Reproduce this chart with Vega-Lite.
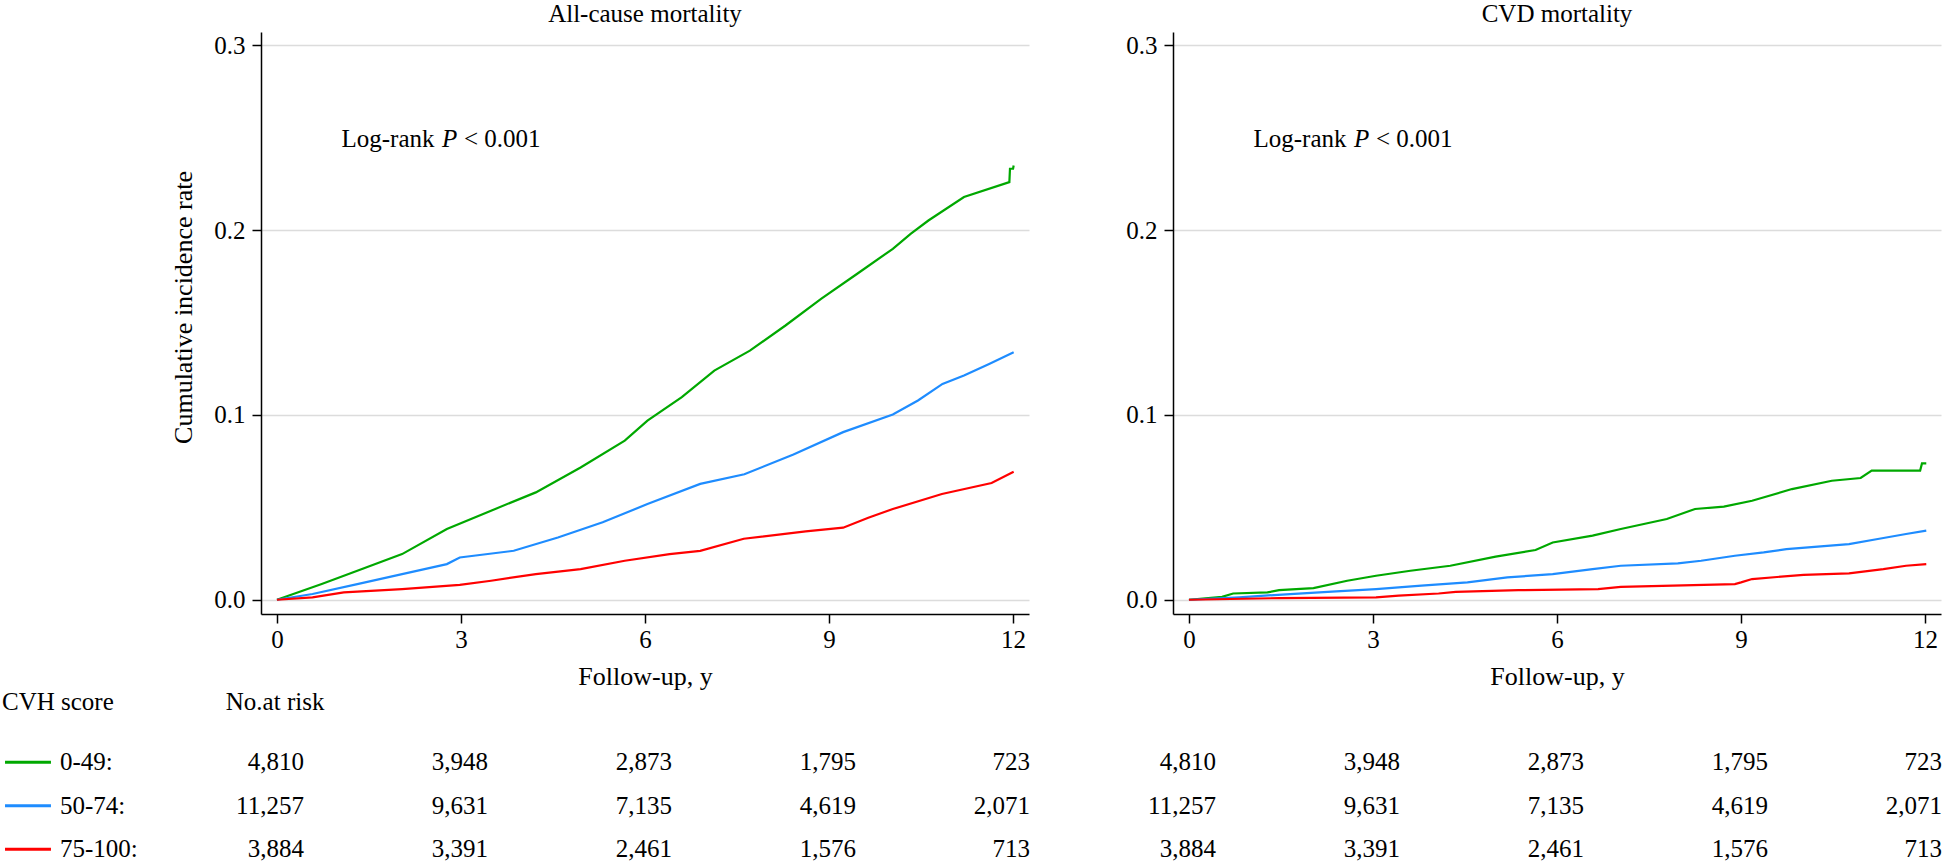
{
  "$schema": "https://vega.github.io/schema/vega-lite/v6.json",
  "padding": {"left": 2, "top": 2, "right": 0, "bottom": 0},
  "background": "white",
  "config": {
    "view": {"stroke": null},
    "font": "Liberation Serif",
    "text": {"font": "Liberation Serif", "fontSize": 25, "color": "black"},
    "title": {"font": "Liberation Serif", "fontSize": 25, "fontWeight": "normal", "color": "black", "anchor": "middle", "frame": "group", "offset": 5},
    "axis": {"domainColor": "black", "domainWidth": 1.5, "tickColor": "black", "tickWidth": 1.5, "tickSize": 9, "labelFont": "Liberation Serif", "labelFontSize": 25, "labelColor": "black", "titleFont": "Liberation Serif", "titleFontSize": 26, "titleFontWeight": "normal", "titleColor": "black", "grid": false},
    "axisX": {"labelPadding": 4, "titleBaseline": "alphabetic", "titleY": 70, "format": "d"},
    "axisY": {"grid": true, "gridColor": "#dcdcdc", "gridWidth": 1.5, "labelPadding": 7, "titleX": -78, "titleY": 275, "titleAngle": 270, "titleAlign": "center", "titleBaseline": "middle", "format": ".1f"}
  },
  "datasets": {
    "km": [
      {"panel":"A","group":"0-49","t":0,"y":0},{"panel":"A","group":"0-49","t":0.73,"y":0.0085},{"panel":"A","group":"0-49","t":1.31,"y":0.0157},{"panel":"A","group":"0-49","t":2.04,"y":0.0247},{"panel":"A","group":"0-49","t":2.77,"y":0.0383},{"panel":"A","group":"0-49","t":3.49,"y":0.0482},{"panel":"A","group":"0-49","t":4.22,"y":0.0581},{"panel":"A","group":"0-49","t":4.95,"y":0.0716},{"panel":"A","group":"0-49","t":5.67,"y":0.0861},{"panel":"A","group":"0-49","t":6.04,"y":0.0969},{"panel":"A","group":"0-49","t":6.6,"y":0.1096},{"panel":"A","group":"0-49","t":7.13,"y":0.124},{"panel":"A","group":"0-49","t":7.71,"y":0.1348},{"panel":"A","group":"0-49","t":8.29,"y":0.1484},{"panel":"A","group":"0-49","t":8.87,"y":0.1628},{"panel":"A","group":"0-49","t":9.46,"y":0.1764},{"panel":"A","group":"0-49","t":10.04,"y":0.1899},{"panel":"A","group":"0-49","t":10.33,"y":0.198},{"panel":"A","group":"0-49","t":10.62,"y":0.2052},{"panel":"A","group":"0-49","t":11.2,"y":0.2179},{"panel":"A","group":"0-49","t":11.94,"y":0.226},{"panel":"A","group":"0-49","t":11.95,"y":0.2332},{"panel":"A","group":"0-49","t":12.0,"y":0.2332},{"panel":"A","group":"0-49","t":12.01,"y":0.235},
      {"panel":"A","group":"50-74","t":0,"y":0},{"panel":"A","group":"50-74","t":0.58,"y":0.0031},{"panel":"A","group":"50-74","t":1.31,"y":0.0085},{"panel":"A","group":"50-74","t":2.04,"y":0.0139},{"panel":"A","group":"50-74","t":2.77,"y":0.0193},{"panel":"A","group":"50-74","t":2.98,"y":0.0229},{"panel":"A","group":"50-74","t":3.86,"y":0.0265},{"panel":"A","group":"50-74","t":4.58,"y":0.0337},{"panel":"A","group":"50-74","t":5.31,"y":0.0419},{"panel":"A","group":"50-74","t":6.04,"y":0.0518},{"panel":"A","group":"50-74","t":6.9,"y":0.0627},{"panel":"A","group":"50-74","t":7.62,"y":0.0679},{"panel":"A","group":"50-74","t":8.42,"y":0.0786},{"panel":"A","group":"50-74","t":9.23,"y":0.0907},{"panel":"A","group":"50-74","t":10.04,"y":0.1002},{"panel":"A","group":"50-74","t":10.45,"y":0.1078},{"panel":"A","group":"50-74","t":10.85,"y":0.1168},{"panel":"A","group":"50-74","t":11.2,"y":0.1213},{"panel":"A","group":"50-74","t":11.61,"y":0.1276},{"panel":"A","group":"50-74","t":12.01,"y":0.1339},
      {"panel":"A","group":"75-100","t":0,"y":0},{"panel":"A","group":"75-100","t":0.58,"y":0.0013},{"panel":"A","group":"75-100","t":1.09,"y":0.004},{"panel":"A","group":"75-100","t":2.04,"y":0.0058},{"panel":"A","group":"75-100","t":2.98,"y":0.0081},{"panel":"A","group":"75-100","t":3.49,"y":0.0103},{"panel":"A","group":"75-100","t":4.22,"y":0.0139},{"panel":"A","group":"75-100","t":4.95,"y":0.0166},{"panel":"A","group":"75-100","t":5.67,"y":0.0211},{"panel":"A","group":"75-100","t":6.4,"y":0.0247},{"panel":"A","group":"75-100","t":6.9,"y":0.0265},{"panel":"A","group":"75-100","t":7.61,"y":0.033},{"panel":"A","group":"75-100","t":8.62,"y":0.037},{"panel":"A","group":"75-100","t":9.23,"y":0.039},{"panel":"A","group":"75-100","t":9.64,"y":0.0444},{"panel":"A","group":"75-100","t":10.04,"y":0.0491},{"panel":"A","group":"75-100","t":10.84,"y":0.0572},{"panel":"A","group":"75-100","t":11.65,"y":0.0632},{"panel":"A","group":"75-100","t":12.01,"y":0.0693},
      {"panel":"B","group":"0-49","t":0,"y":0},{"panel":"B","group":"0-49","t":0.54,"y":0.0016},{"panel":"B","group":"0-49","t":0.72,"y":0.0034},{"panel":"B","group":"0-49","t":1.28,"y":0.004},{"panel":"B","group":"0-49","t":1.47,"y":0.0052},{"panel":"B","group":"0-49","t":2.03,"y":0.0063},{"panel":"B","group":"0-49","t":2.58,"y":0.0103},{"panel":"B","group":"0-49","t":3.05,"y":0.013},{"panel":"B","group":"0-49","t":3.61,"y":0.0157},{"panel":"B","group":"0-49","t":4.26,"y":0.0184},{"panel":"B","group":"0-49","t":5.0,"y":0.0233},{"panel":"B","group":"0-49","t":5.65,"y":0.0269},{"panel":"B","group":"0-49","t":5.93,"y":0.031},{"panel":"B","group":"0-49","t":6.58,"y":0.0347},{"panel":"B","group":"0-49","t":7.04,"y":0.0383},{"panel":"B","group":"0-49","t":7.79,"y":0.0437},{"panel":"B","group":"0-49","t":8.25,"y":0.0491},{"panel":"B","group":"0-49","t":8.72,"y":0.0504},{"panel":"B","group":"0-49","t":9.18,"y":0.0536},{"panel":"B","group":"0-49","t":9.83,"y":0.0599},{"panel":"B","group":"0-49","t":10.48,"y":0.0644},{"panel":"B","group":"0-49","t":10.95,"y":0.0659},{"panel":"B","group":"0-49","t":11.13,"y":0.0699},{"panel":"B","group":"0-49","t":11.92,"y":0.0699},{"panel":"B","group":"0-49","t":11.95,"y":0.0738},{"panel":"B","group":"0-49","t":12.02,"y":0.0738},
      {"panel":"B","group":"50-74","t":0,"y":0},{"panel":"B","group":"50-74","t":0.82,"y":0.0013},{"panel":"B","group":"50-74","t":1.65,"y":0.0031},{"panel":"B","group":"50-74","t":2.4,"y":0.0045},{"panel":"B","group":"50-74","t":3.05,"y":0.0058},{"panel":"B","group":"50-74","t":3.79,"y":0.0076},{"panel":"B","group":"50-74","t":4.54,"y":0.0094},{"panel":"B","group":"50-74","t":5.19,"y":0.0121},{"panel":"B","group":"50-74","t":5.93,"y":0.0139},{"panel":"B","group":"50-74","t":6.58,"y":0.0166},{"panel":"B","group":"50-74","t":7.04,"y":0.0184},{"panel":"B","group":"50-74","t":7.97,"y":0.0197},{"panel":"B","group":"50-74","t":8.35,"y":0.0211},{"panel":"B","group":"50-74","t":8.9,"y":0.0238},{"panel":"B","group":"50-74","t":9.37,"y":0.0256},{"panel":"B","group":"50-74","t":9.74,"y":0.0274},{"panel":"B","group":"50-74","t":10.76,"y":0.0301},{"panel":"B","group":"50-74","t":11.23,"y":0.0329},{"panel":"B","group":"50-74","t":11.69,"y":0.0356},{"panel":"B","group":"50-74","t":12.02,"y":0.0374},
      {"panel":"B","group":"75-100","t":0,"y":0},{"panel":"B","group":"75-100","t":1.47,"y":0.0009},{"panel":"B","group":"75-100","t":3.05,"y":0.0013},{"panel":"B","group":"75-100","t":3.42,"y":0.0022},{"panel":"B","group":"75-100","t":4.07,"y":0.0034},{"panel":"B","group":"75-100","t":4.35,"y":0.0043},{"panel":"B","group":"75-100","t":5.37,"y":0.0052},{"panel":"B","group":"75-100","t":6.67,"y":0.0058},{"panel":"B","group":"75-100","t":7.04,"y":0.007},{"panel":"B","group":"75-100","t":8.9,"y":0.0085},{"panel":"B","group":"75-100","t":9.0,"y":0.0094},{"panel":"B","group":"75-100","t":9.18,"y":0.0112},{"panel":"B","group":"75-100","t":10.02,"y":0.0135},{"panel":"B","group":"75-100","t":10.76,"y":0.0143},{"panel":"B","group":"75-100","t":11.32,"y":0.0166},{"panel":"B","group":"75-100","t":11.69,"y":0.0184},{"panel":"B","group":"75-100","t":12.02,"y":0.0193}
    ],
    "risk": [
      {"group":"0-49","t":0,"n":4810},{"group":"0-49","t":3,"n":3948},{"group":"0-49","t":6,"n":2873},{"group":"0-49","t":9,"n":1795},{"group":"0-49","t":12,"n":723},
      {"group":"50-74","t":0,"n":11257},{"group":"50-74","t":3,"n":9631},{"group":"50-74","t":6,"n":7135},{"group":"50-74","t":9,"n":4619},{"group":"50-74","t":12,"n":2071},
      {"group":"75-100","t":0,"n":3884},{"group":"75-100","t":3,"n":3391},{"group":"75-100","t":6,"n":2461},{"group":"75-100","t":9,"n":1576},{"group":"75-100","t":12,"n":713}
    ],
    "groups": [
      {"group":"0-49","label":"0-49:"},{"group":"50-74","label":"50-74:"},{"group":"75-100","label":"75-100:"}
    ]
  },
  "bounds": "flush",
  "spacing": 144,
  "hconcat": [
    {
      "width": 768,
      "height": 582,
      "title": "All-cause mortality",
      "resolve": {"scale": {"y": "independent"}},
      "layer": [
        {
          "layer": [
            {
              "data": {"name": "km"},
              "transform": [{"filter": "datum.panel === 'A'"}],
              "mark": {"type": "line", "strokeWidth": 2.2, "interpolate": "linear"},
              "encoding": {
                "x": {"field": "t", "type": "quantitative", "scale": {"domain": [-0.26, 12.26], "nice": false, "zero": false}, "axis": {"values": [0, 3, 6, 9, 12], "format": "d", "title": "Follow-up, y"}},
                "y": {"field": "y", "type": "quantitative", "scale": {"domain": [-0.0077, 0.3072], "nice": false, "zero": false}, "axis": {"values": [0, 0.1, 0.2, 0.3], "format": ".1f", "title": "Cumulative incidence rate"}},
                "color": {"field": "group", "type": "nominal", "scale": {"domain": ["0-49", "50-74", "75-100"], "range": ["#00a800", "#1e8cff", "#ff0000"]}, "legend": null}
              }
            },
            {
              "data": {"values": [{"txt": "Log-rank"}]},
              "mark": {"type": "text", "align": "left", "baseline": "alphabetic"},
              "encoding": {
                "x": {"datum": 1.052, "scale": {"domain": [-0.26, 12.26], "nice": false, "zero": false}},
                "y": {"datum": 0.2448, "scale": {"domain": [-0.0077, 0.3072], "nice": false, "zero": false}},
                "text": {"field": "txt"}
              }
            },
            {
              "data": {"values": [{"txt": "P"}]},
              "mark": {"type": "text", "align": "left", "baseline": "alphabetic", "fontStyle": "italic"},
              "encoding": {
                "x": {"datum": 2.69, "scale": {"domain": [-0.26, 12.26], "nice": false, "zero": false}},
                "y": {"datum": 0.2448, "scale": {"domain": [-0.0077, 0.3072], "nice": false, "zero": false}},
                "text": {"field": "txt"}
              }
            },
            {
              "data": {"values": [{"txt": "< 0.001"}]},
              "mark": {"type": "text", "align": "left", "baseline": "alphabetic"},
              "encoding": {
                "x": {"datum": 3.049, "scale": {"domain": [-0.26, 12.26], "nice": false, "zero": false}},
                "y": {"datum": 0.2448, "scale": {"domain": [-0.0077, 0.3072], "nice": false, "zero": false}},
                "text": {"field": "txt"}
              }
            },
            {
              "data": {"values": [{"txt": "CVH score"}]},
              "mark": {"type": "text", "align": "left", "baseline": "alphabetic"},
              "encoding": {
                "x": {"datum": -4.482, "scale": {"domain": [-0.26, 12.26], "nice": false, "zero": false}},
                "y": {"datum": -0.0595, "scale": {"domain": [-0.0077, 0.3072], "nice": false, "zero": false}},
                "text": {"field": "txt"}
              }
            },
            {
              "data": {"values": [{"txt": "No.at risk"}]},
              "mark": {"type": "text", "align": "center", "baseline": "alphabetic"},
              "encoding": {
                "x": {"datum": -0.03, "scale": {"domain": [-0.26, 12.26], "nice": false, "zero": false}},
                "y": {"datum": -0.0595, "scale": {"domain": [-0.0077, 0.3072], "nice": false, "zero": false}},
                "text": {"field": "txt"}
              }
            }
          ]
        },
        {
          "layer": [
            {
              "data": {"name": "risk"},
              "transform": [{"filter": "datum.t < 12"}],
              "mark": {"type": "text", "align": "right", "baseline": "middle", "dx": 27},
              "encoding": {
                "x": {"field": "t", "type": "quantitative", "title": "Follow-up, y", "scale": {"domain": [-0.26, 12.26], "nice": false, "zero": false}},
                "y": {"field": "group", "type": "nominal", "scale": {"type": "point", "domain": ["0-49", "50-74", "75-100"], "range": [730.3, 817.3], "padding": 0}, "axis": null},
                "text": {"field": "n", "type": "quantitative", "format": ","}
              }
            },
            {
              "data": {"name": "risk"},
              "transform": [{"filter": "datum.t === 12"}],
              "mark": {"type": "text", "align": "right", "baseline": "middle", "dx": 17},
              "encoding": {
                "x": {"field": "t", "type": "quantitative", "title": "Follow-up, y", "scale": {"domain": [-0.26, 12.26], "nice": false, "zero": false}},
                "y": {"field": "group", "type": "nominal", "scale": {"type": "point", "domain": ["0-49", "50-74", "75-100"], "range": [730.3, 817.3], "padding": 0}, "axis": null},
                "text": {"field": "n", "type": "quantitative", "format": ","}
              }
            },
            {
              "data": {"name": "groups"},
              "mark": {"type": "rule", "strokeWidth": 3},
              "encoding": {
                "x": {"datum": -4.433, "scale": {"domain": [-0.26, 12.26], "nice": false, "zero": false}},
                "x2": {"datum": -3.684},
                "y": {"field": "group", "type": "nominal", "scale": {"type": "point", "domain": ["0-49", "50-74", "75-100"], "range": [730.3, 817.3], "padding": 0}, "axis": null},
                "color": {"field": "group", "type": "nominal", "scale": {"domain": ["0-49", "50-74", "75-100"], "range": ["#00a800", "#1e8cff", "#ff0000"]}, "legend": null}
              }
            },
            {
              "data": {"name": "groups"},
              "mark": {"type": "text", "align": "left", "baseline": "middle"},
              "encoding": {
                "x": {"datum": -3.537, "scale": {"domain": [-0.26, 12.26], "nice": false, "zero": false}},
                "y": {"field": "group", "type": "nominal", "scale": {"type": "point", "domain": ["0-49", "50-74", "75-100"], "range": [730.3, 817.3], "padding": 0}, "axis": null},
                "text": {"field": "label"}
              }
            }
          ]
        }
      ]
    },
    {
      "width": 768,
      "height": 582,
      "title": "CVD mortality",
      "resolve": {"scale": {"y": "independent"}},
      "layer": [
        {
          "layer": [
            {
              "data": {"name": "km"},
              "transform": [{"filter": "datum.panel === 'B'"}],
              "mark": {"type": "line", "strokeWidth": 2.2, "interpolate": "linear"},
              "encoding": {
                "x": {"field": "t", "type": "quantitative", "scale": {"domain": [-0.26, 12.26], "nice": false, "zero": false}, "axis": {"values": [0, 3, 6, 9, 12], "format": "d", "title": "Follow-up, y"}},
                "y": {"field": "y", "type": "quantitative", "scale": {"domain": [-0.0077, 0.3072], "nice": false, "zero": false}, "axis": {"values": [0, 0.1, 0.2, 0.3], "format": ".1f", "title": null}},
                "color": {"field": "group", "type": "nominal", "scale": {"domain": ["0-49", "50-74", "75-100"], "range": ["#00a800", "#1e8cff", "#ff0000"]}, "legend": null}
              }
            },
            {
              "data": {"values": [{"txt": "Log-rank"}]},
              "mark": {"type": "text", "align": "left", "baseline": "alphabetic"},
              "encoding": {
                "x": {"datum": 1.052, "scale": {"domain": [-0.26, 12.26], "nice": false, "zero": false}},
                "y": {"datum": 0.2448, "scale": {"domain": [-0.0077, 0.3072], "nice": false, "zero": false}},
                "text": {"field": "txt"}
              }
            },
            {
              "data": {"values": [{"txt": "P"}]},
              "mark": {"type": "text", "align": "left", "baseline": "alphabetic", "fontStyle": "italic"},
              "encoding": {
                "x": {"datum": 2.69, "scale": {"domain": [-0.26, 12.26], "nice": false, "zero": false}},
                "y": {"datum": 0.2448, "scale": {"domain": [-0.0077, 0.3072], "nice": false, "zero": false}},
                "text": {"field": "txt"}
              }
            },
            {
              "data": {"values": [{"txt": "< 0.001"}]},
              "mark": {"type": "text", "align": "left", "baseline": "alphabetic"},
              "encoding": {
                "x": {"datum": 3.049, "scale": {"domain": [-0.26, 12.26], "nice": false, "zero": false}},
                "y": {"datum": 0.2448, "scale": {"domain": [-0.0077, 0.3072], "nice": false, "zero": false}},
                "text": {"field": "txt"}
              }
            }
          ]
        },
        {
          "layer": [
            {
              "data": {"name": "risk"},
              "transform": [{"filter": "datum.t < 12"}],
              "mark": {"type": "text", "align": "right", "baseline": "middle", "dx": 27},
              "encoding": {
                "x": {"field": "t", "type": "quantitative", "title": "Follow-up, y", "scale": {"domain": [-0.26, 12.26], "nice": false, "zero": false}},
                "y": {"field": "group", "type": "nominal", "scale": {"type": "point", "domain": ["0-49", "50-74", "75-100"], "range": [730.3, 817.3], "padding": 0}, "axis": null},
                "text": {"field": "n", "type": "quantitative", "format": ","}
              }
            },
            {
              "data": {"name": "risk"},
              "transform": [{"filter": "datum.t === 12"}],
              "mark": {"type": "text", "align": "right", "baseline": "middle", "dx": 17},
              "encoding": {
                "x": {"field": "t", "type": "quantitative", "title": "Follow-up, y", "scale": {"domain": [-0.26, 12.26], "nice": false, "zero": false}},
                "y": {"field": "group", "type": "nominal", "scale": {"type": "point", "domain": ["0-49", "50-74", "75-100"], "range": [730.3, 817.3], "padding": 0}, "axis": null},
                "text": {"field": "n", "type": "quantitative", "format": ","}
              }
            }
          ]
        }
      ]
    }
  ]
}
